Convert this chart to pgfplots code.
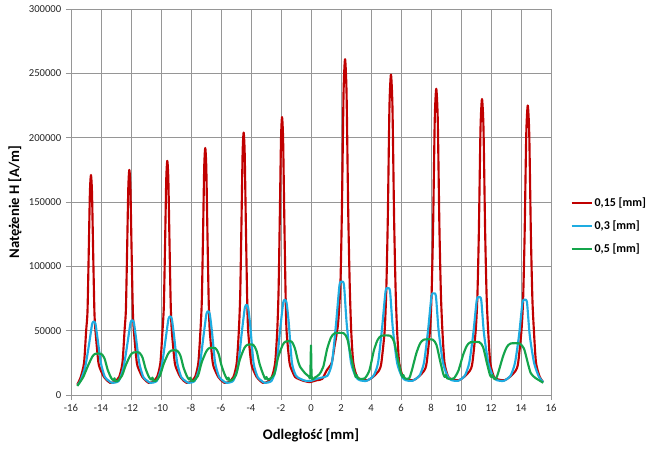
\documentclass[border=0pt]{standalone}
\usepackage{pgfplots}
\pgfplotsset{compat=1.18}
\usepackage{fontspec}
\setmainfont{Carlito}
\definecolor{cred}{RGB}{192,0,0}
\definecolor{cblue}{RGB}{30,172,225}
\definecolor{cgreen}{RGB}{20,165,75}
\definecolor{cgrid}{RGB}{150,150,150}
\begin{document}
\begin{tikzpicture}
\useasboundingbox (-53.25pt,-42.75pt) rectangle (433.5pt,296.25pt);
\begin{axis}[
 at={(0,0)}, anchor=south west, scale only axis, width=360pt, height=289.5pt,
 xmin=-16,xmax=16,ymin=0,ymax=300,
 xtick={-16,-14,...,16}, xticklabels={-16,-14,-12,-10,-8,-6,-4,-2,0,2,4,6,8,10,12,14,16},
 ytick={0,50,...,300}, yticklabels={0,50000,100000,150000,200000,250000,300000},
 grid=major, grid style={cgrid, line width=0.6pt},
 axis line style={cgrid, line width=0.6pt},
 tick style={cgrid, line width=0.6pt},
 tick align=outside, major tick length=3.75pt,
 xtick pos=bottom, ytick pos=left,
 ticklabel style={font=\fontsize{8}{9}\selectfont, text=black!85},
 xlabel={Odległość [mm]}, ylabel={Natężenie H [A/m]},
 label style={font=\fontsize{11}{13}\selectfont\bfseries},
 xlabel style={at={(axis description cs:0.5,-0.1036)}, anchor=center},
 ylabel style={at={(axis description cs:-0.1167,0.5)}, anchor=center},
 legend style={draw=none, fill=none, at={(1.04,0.438)}, anchor=west, inner sep=0pt, font=\fontsize{9}{10}\selectfont\bfseries, row sep=8.25pt, nodes={inner sep=0pt, inner xsep=1.5pt, text height=7pt, text depth=2pt}},
 legend cell align=left,
 legend image code/.code={\draw[#1, line width=1.6pt] (0pt,0pt) -- (15pt,0pt);},
 every axis plot/.append style={line width=1.6pt, smooth, tension=0.4, line join=round},
]
% 0,15 mm (values in thousands A/m)
\addplot[cred] coordinates {
(-15.58,8)(-15.35,14)(-15.13,25)(-14.99,50)(-14.90,65)(-14.82,109.4)(-14.74,157.3)(-14.67,171)(-14.60,157.3)(-14.52,109.4)(-14.44,65)(-14.37,50)(-14.17,25)(-13.97,18)(-13.80,14)(-13.57,11)(-13.40,9.5)
(-13.11,10)(-12.79,14)(-12.57,25)(-12.43,50)(-12.34,66.5)(-12.26,112)(-12.18,161)(-12.11,175)(-12.04,161)(-11.96,112)(-11.88,66.5)(-11.81,50)(-11.61,25)(-11.41,18)(-11.24,14)(-11.01,11)(-10.84,9.5)
(-10.58,10)(-10.26,14)(-10.04,25)(-9.90,50)(-9.81,69.2)(-9.73,116.5)(-9.65,167.4)(-9.58,182)(-9.51,167.4)(-9.43,116.5)(-9.35,69.2)(-9.28,50)(-9.08,25)(-8.88,18)(-8.71,14)(-8.48,11)(-8.31,9.5)
(-8.05,10)(-7.73,14)(-7.51,25)(-7.37,50)(-7.28,73)(-7.20,122.9)(-7.12,176.6)(-7.05,192)(-6.98,176.6)(-6.90,122.9)(-6.82,73)(-6.75,50)(-6.55,25)(-6.35,18)(-6.18,14)(-5.95,11)(-5.78,9.5)
(-5.49,10)(-5.17,14)(-4.95,25)(-4.81,50)(-4.72,77.5)(-4.64,130.6)(-4.56,187.7)(-4.49,204)(-4.42,187.7)(-4.34,130.6)(-4.26,77.5)(-4.19,50)(-3.99,25)(-3.79,18)(-3.62,14)(-3.39,11)(-3.22,9.5)
(-2.93,10)(-2.61,14)(-2.39,25)(-2.25,50)(-2.16,82.1)(-2.08,138.2)(-2.00,198.7)(-1.93,216)(-1.86,198.7)(-1.78,138.2)(-1.70,82.1)(-1.63,50)(-1.43,25)(-1.23,18)(-1.06,14)(-0.83,12.5)(-0.5,11)(-0.1,10)(0.1,10.5)(0.4,11.5)(0.75,12.5)
(1.04,19)(1.38,25)(1.57,38)(1.80,55)(1.96,86.1)(2.06,143.6)(2.17,234.9)(2.27,261)(2.37,234.9)(2.48,143.6)(2.58,86.1)(2.68,50)(2.82,25)(3.07,14)(3.37,12)(3.77,11.5)
(4.13,14)(4.53,19)(4.69,25)(4.91,50)(5.02,82.2)(5.12,137)(5.23,224.1)(5.33,249)(5.43,224.1)(5.54,137)(5.64,82.2)(5.74,50)(5.88,25)(6.13,14)(6.43,12)(6.83,11.5)
(7.15,14)(7.55,19)(7.71,25)(7.93,50)(8.04,78.5)(8.14,130.9)(8.25,214.2)(8.35,238)(8.45,214.2)(8.56,130.9)(8.66,78.5)(8.76,50)(8.90,25)(9.15,14)(9.45,12)(9.85,11.5)
(10.20,14)(10.60,19)(10.76,25)(10.98,50)(11.09,75.9)(11.19,126.5)(11.30,207)(11.40,230)(11.50,207)(11.61,126.5)(11.71,75.9)(11.81,50)(11.95,25)(12.20,14)(12.50,12)(12.90,11.5)
(13.25,14)(13.65,19)(13.81,25)(14.03,50)(14.14,74.3)(14.24,123.8)(14.35,202.5)(14.45,225)(14.55,202.5)(14.66,123.8)(14.76,74.3)(14.86,50)(15.00,25)(15.25,14)(15.48,10)
};
\addlegendentry{0,15 [mm]}
% 0,3 mm
\addplot[cblue] coordinates {
(-15.55,8)(-15.37,11)(-15.05,22)(-14.79,39.9)(-14.59,55.3)(-14.47,57)(-14.37,55.3)(-14.23,43.9)(-14.01,25)(-13.74,14)(-13.47,11)(-13.27,9.5)
(-12.81,11)(-12.49,22)(-12.23,40.6)(-12.03,56.3)(-11.91,58)(-11.81,56.3)(-11.67,44.7)(-11.45,25)(-11.18,14)(-10.91,11)(-10.71,9.5)
(-10.28,11)(-9.96,22)(-9.70,42.7)(-9.50,59.2)(-9.38,61)(-9.28,59.2)(-9.14,47)(-8.92,25)(-8.65,14)(-8.38,11)(-8.18,9.5)
(-7.75,11)(-7.43,22)(-7.17,45.5)(-6.97,63)(-6.85,65)(-6.75,63)(-6.61,50)(-6.39,25)(-6.12,14)(-5.85,11)(-5.65,9.5)
(-5.19,11)(-4.87,22)(-4.61,49)(-4.41,67.9)(-4.29,70)(-4.19,67.9)(-4.05,53.9)(-3.83,25)(-3.56,14)(-3.29,11)(-3.09,9.5)
(-2.63,11)(-2.31,22)(-2.05,51.8)(-1.85,71.8)(-1.73,74)(-1.63,71.8)(-1.49,57)(-1.27,25)(-1.0,15)(-0.7,12.5)(-0.35,11)(0,11)(0.35,12.5)(0.7,13.5)
(1.1,15)(1.4,25)(1.67,55.4)(1.9,85.4)(2.05,88)(2.2,85.4)(2.38,55.4)(2.67,25)(3.0,14)(3.25,11.5)(3.7,11)
(4.17,15)(4.47,25)(4.74,52.3)(4.97,80.5)(5.12,83)(5.27,80.5)(5.45,52.3)(5.74,25)(6.07,14)(6.32,11.5)(6.75,11)
(7.23,15)(7.53,25)(7.80,49.8)(8.03,76.6)(8.18,79)(8.33,76.6)(8.51,49.8)(8.80,25)(9.13,14)(9.38,11.5)(9.8,11)
(10.25,15)(10.55,25)(10.82,47.9)(11.05,73.7)(11.2,76)(11.35,73.7)(11.53,47.9)(11.82,25)(12.15,14)(12.4,11.5)(12.85,11)
(13.3,15)(13.6,25)(13.87,46.6)(14.1,71.8)(14.25,74)(14.4,71.8)(14.58,46.6)(14.87,25)(15.2,14)(15.48,10)
};
\addlegendentry{0,3 [mm]}
% 0,5 mm
\addplot[cgreen] coordinates {
(-15.58,7)(-15.4,10)(-15.18,14)(-14.88,22.4)(-14.58,29.8)(-14.38,32)(-13.98,32)(-13.76,28.2)(-13.56,19.8)(-13.33,13.4)(-13.18,11.5)(-13.10,13)(-13.03,10.5)(-12.88,11)
(-12.6,15)(-12.35,23.1)(-12.05,30.7)(-11.85,33)(-11.45,33)(-11.23,29)(-11.03,20.5)(-10.8,13.9)(-10.65,12)(-10.57,13.5)(-10.50,11)(-10.35,11)
(-10.07,15)(-9.82,24.2)(-9.52,32.1)(-9.32,34.5)(-8.92,34.5)(-8.70,30.4)(-8.50,21.4)(-8.27,14.5)(-8.12,12)(-8.04,13.5)(-7.97,11)(-7.82,11)
(-7.53,15)(-7.28,25.6)(-6.98,33.9)(-6.78,36.5)(-6.38,36.5)(-6.16,32.1)(-5.96,22.6)(-5.73,15.3)(-5.58,12)(-5.50,13.5)(-5.43,11)(-5.28,11.5)
(-5.0,15.5)(-4.75,27.3)(-4.45,36.3)(-4.25,39)(-3.85,39)(-3.63,34.3)(-3.43,24.2)(-3.2,16.4)(-3.05,12.5)(-2.97,14)(-2.9,12)(-2.75,12.5)
(-2.45,16)(-2.2,29)(-1.9,38.6)(-1.7,41.5)(-1.3,41.5)(-1.08,36.5)(-0.88,27)(-0.73,22)(-0.4,17)(-0.15,14.5)(-0.05,14)(0,38.5)(0.05,13.5)(0.25,13.5)
(0.55,16)(0.82,22)(1.08,36)(1.33,44.6)(1.58,48)(2.18,48)(2.43,43.2)(2.68,28.8)(2.88,18.2)(2.98,14)(3.05,15.5)(3.13,13)(3.28,12.5)
(3.59,13)(3.89,19)(4.19,34.5)(4.44,42.8)(4.69,46)(5.29,46)(5.54,41.4)(5.79,27.6)(5.99,17.5)(6.09,14)(6.16,15.5)(6.24,13)(6.39,12.5)
(6.55,13)(6.72,19)(7.02,32.3)(7.27,40)(7.52,43)(8.12,43)(8.37,38.7)(8.62,25.8)(8.82,16.3)(8.92,14)(8.99,15.5)(9.07,13)(9.22,12.5)
(9.53,13)(9.83,19)(10.13,30.8)(10.38,38.1)(10.63,41)(11.23,41)(11.48,36.9)(11.73,24.6)(11.93,15.6)(12.03,14)(12.1,15.5)(12.18,13)(12.33,12.5)
(12.5,18)(12.8,30)(13.05,37.2)(13.3,40)(13.9,40)(14.2,36)(14.45,25)(14.65,17)(14.93,13.5)(15.2,11.5)(15.48,9.5)
};
\addlegendentry{0,5 [mm]}
\end{axis}
\end{tikzpicture}
\end{document}
